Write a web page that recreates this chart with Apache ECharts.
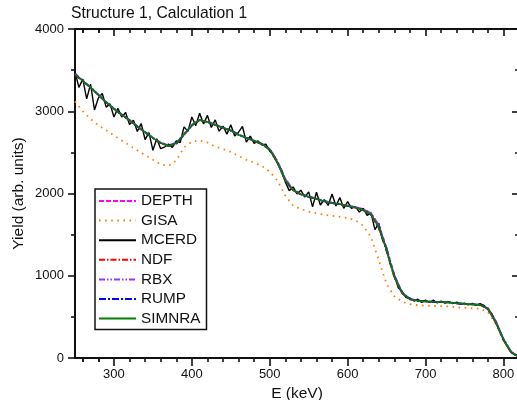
<!DOCTYPE html>
<html>
<head>
<meta charset="utf-8">
<script src="https://cdn.jsdelivr.net/npm/echarts@6/dist/echarts.min.js"></script>
<style>
  html, body { margin: 0; padding: 0; background: #fff; }
  #chart { width: 517px; height: 400px; }
</style>
</head>
<body>
<div id="chart"></div>
<script>
// Energy grids (keV)
var energy10 = [250,260,270,280,290,300,310,320,330,340,350,360,370,380,390,400,410,420,430,440,
  450,460,470,480,490,500,510,520,530,540,550,560,570,580,590,600,610,620,630,640,
  650,660,670,680,690,700,710,720,730,740,750,760,770,780,790,800,810,820];
var energy5 = [250,255,260,265,270,275,280,285,290,295,300,305,310,315,320,325,330,335,340,345,
  350,355,360,365,370,375,380,385,390,395,400,405,410,415,420,425,430,435,440,445,
  450,455,460,465,470,475,480,485,490,495,500,505,510,515,520,525,530,535,540,545,
  550,555,560,565,570,575,580,585,590,595,600,605,610,615,620,625,630,635,640,645,
  650,655,660,665,670,675,680,685,690,695,700,705,710,715,720,725,730,735,740,745,
  750,755,760,765,770,775,780,785,790,795,800,805,810,815,820];

// Simulated yields per code (arb. units)
var depth = [3460,3375,3290,3205,3115,3035,2960,2895,2820,2750,2680,2620,2585,2605,2710,2825,2890,2875,2840,2805,
  2770,2720,2680,2645,2605,2545,2395,2180,2050,1995,1965,1940,1910,1890,1875,1855,1835,1810,1760,1620,
  1340,1010,800,720,698,690,685,681,677,667,660,654,648,610,455,235,75,16];
var gisa = [3120,3000,2905,2830,2770,2705,2645,2585,2525,2465,2410,2355,2335,2400,2560,2630,2645,2620,2570,2540,
  2505,2455,2410,2375,2335,2265,2155,1975,1850,1810,1780,1760,1742,1728,1716,1702,1674,1610,1470,1190,
  900,750,685,655,641,637,633,630,628,615,610,605,600,560,420,210,65,12];
var mcerd = [3480,3290,3390,3150,3330,3015,3160,3215,3050,3090,2930,3035,2930,2985,2840,2892,2755,2850,2655,2740,
  2525,2665,2545,2565,2600,2560,2640,2620,2810,2755,2930,2825,2975,2845,2950,2802,2895,2758,2820,2722,
  2835,2700,2745,2815,2625,2697,2610,2640,2590,2600,2515,2470,2365,2290,2140,2035,2080,1995,2040,1955,
  2020,1838,2015,1860,1925,1855,1995,1848,1950,1820,1900,1820,1840,1775,1820,1735,1765,1560,1640,1440,
  1340,1140,1010,855,810,735,730,693,715,676,703,675,703,671,692,666,686,660,680,653,
  668,645,664,641,660,640,590,540,430,340,220,140,70,35,15];
var ndf = [3440,3365,3285,3195,3105,3025,2955,2885,2810,2740,2670,2610,2575,2600,2715,2825,2890,2868,2832,2797,
  2760,2712,2672,2637,2597,2530,2365,2150,2035,1988,1958,1932,1902,1882,1867,1847,1826,1795,1738,1578,
  1295,975,782,712,693,686,681,678,674,663,656,650,644,595,432,220,68,14];
var rbx = [3455,3372,3293,3203,3112,3033,2963,2893,2818,2748,2678,2618,2585,2618,2728,2836,2898,2872,2838,2803,
  2768,2718,2678,2643,2604,2545,2390,2178,2046,1994,1963,1938,1908,1888,1873,1854,1836,1810,1762,1615,
  1335,1005,798,718,697,690,685,682,678,667,660,654,648,612,458,238,78,17];
var rump = [3448,3368,3288,3198,3108,3028,2958,2888,2813,2743,2673,2613,2578,2607,2716,2828,2893,2869,2834,2799,
  2763,2714,2674,2639,2599,2533,2372,2157,2038,1989,1959,1934,1904,1884,1869,1849,1829,1799,1743,1587,
  1305,985,788,714,694,687,682,679,675,664,657,651,645,598,437,222,69,15];
var simnra = [3450,3370,3290,3200,3110,3030,2960,2890,2815,2745,2675,2615,2580,2610,2720,2830,2895,2870,2835,2800,
  2765,2715,2675,2640,2600,2535,2375,2160,2040,1990,1960,1935,1905,1885,1870,1850,1830,1800,1745,1590,
  1310,990,790,715,695,688,683,680,676,665,658,652,646,600,440,225,70,15];

// Axis ticks
var xMajorTicks = [300,400,500,600,700,800];
var xLeadTicks = [260,280];

function pairs(xs, ys) {
  return ys.map(function (y, i) { return [xs[i], y]; });
}

var FONT = '"Liberation Sans", Arial, Helvetica, sans-serif';
var INK = '#111';
function blank() { return ''; }

// x axis: top/bottom, major ticks with 20 keV minor ticks in between
function xAxisDef(pos, ticks, len, minorLen, inside, withLine, withLabels) {
  return {
    type: 'value', position: pos, min: 250, max: 820,
    axisLine: { show: withLine, onZero: false, lineStyle: { color: INK, width: 2 } },
    axisTick: { show: true, customValues: ticks, inside: inside, length: len, lineStyle: { color: INK, width: 1.6 } },
    minorTick: { show: minorLen > 0, splitNumber: 5, length: minorLen, lineStyle: { color: INK, width: 1.6 } },
    axisLabel: {
      show: true, customValues: ticks, color: INK, fontFamily: FONT, fontSize: 13, margin: 10,
      formatter: withLabels ? function (v) { return String(v); } : blank
    },
    splitLine: { show: false }, minorSplitLine: { show: false }
  };
}

var bottomMajor = xAxisDef('bottom', xMajorTicks, 8, 4, false, true, true);
bottomMajor.name = 'E (keV)';
bottomMajor.nameLocation = 'middle';
bottomMajor.nameGap = 21;
bottomMajor.nameTextStyle = { color: INK, fontFamily: FONT, fontSize: 15.5 };

function yAxisDef(pos, inside, withLabels) {
  return {
    type: 'value', position: pos, min: 0, max: 4000, interval: 1000,
    axisLine: { show: true, lineStyle: { color: INK, width: 2 } },
    axisTick: { show: true, inside: inside, length: 7, lineStyle: { color: INK, width: 1.6 } },
    minorTick: { show: true, splitNumber: 2, length: 4, lineStyle: { color: INK, width: 1.6 } },
    axisLabel: {
      show: true, color: INK, fontFamily: FONT, fontSize: 13, margin: 11,
      formatter: withLabels ? function (v) { return String(v); } : blank
    },
    splitLine: { show: false }, minorSplitLine: { show: false }
  };
}

var leftAxis = yAxisDef('left', false, true);
leftAxis.name = 'Yield (arb. units)';
leftAxis.nameLocation = 'middle';
leftAxis.nameGap = 48;
leftAxis.nameMoveOverlap = false;
leftAxis.nameTextStyle = { color: INK, fontFamily: FONT, fontSize: 15.5 };

function lineSeries(name, xs, ys, color, dash, width) {
  return {
    name: name, type: 'line', data: pairs(xs, ys), symbol: 'none', showSymbol: false,
    xAxisIndex: 0, yAxisIndex: 0, animation: false,
    lineStyle: { color: color, width: width, type: dash },
    itemStyle: { color: color },
    emphasis: { disabled: true }
  };
}

var chart = echarts.init(document.getElementById('chart'), null, { renderer: 'canvas' });
chart.setOption({
  backgroundColor: '#fff',
  animation: false,
  title: {
    text: 'Structure 1, Calculation 1',
    left: 71, top: 6, padding: 0,
    textStyle: { color: INK, fontFamily: FONT, fontSize: 15.7, fontWeight: 'normal' }
  },
  grid: { left: 75, top: 29, right: -2, bottom: 42, containLabel: false, outerBoundsMode: 'none' },
  legend: {
    orient: 'vertical', left: 95, top: 189,
    padding: [4, 6, 3, 3],
    borderColor: INK, borderWidth: 1.5, backgroundColor: '#fff',
    itemWidth: 37, itemHeight: 14, itemGap: 3.6,
    itemStyle: { opacity: 0 },
    textStyle: { color: INK, fontFamily: FONT, fontSize: 15.3, lineHeight: 16 },
    data: ['DEPTH', 'GISA', 'MCERD', 'NDF', 'RBX', 'RUMP', 'SIMNRA']
  },
  xAxis: [
    bottomMajor,
    xAxisDef('top', xMajorTicks, 7, 4, true, true, false),
    xAxisDef('bottom', xLeadTicks, 4, 0, false, false, false),
    xAxisDef('top', xLeadTicks, 4, 0, true, false, false)
  ],
  yAxis: [leftAxis, yAxisDef('right', true, false)],
  series: [
    lineSeries('DEPTH', energy10, depth, '#ff00ff', [5, 2], 1.6),
    lineSeries('GISA', energy10, gisa, '#ff8000', [1.6, 4.5], 1.8),
    lineSeries('MCERD', energy5, mcerd, '#000000', 'solid', 1.4),
    lineSeries('NDF', energy10, ndf, '#ff0000', [6, 2, 1.5, 2], 1.6),
    lineSeries('RBX', energy10, rbx, '#9933ff', [6, 2, 1.5, 2, 1.5, 2], 1.6),
    lineSeries('RUMP', energy10, rump, '#0000ff', [7, 2, 2, 2], 1.6),
    lineSeries('SIMNRA', energy10, simnra, '#008000', 'solid', 1.6)
  ]
});
</script>
</body>
</html>
